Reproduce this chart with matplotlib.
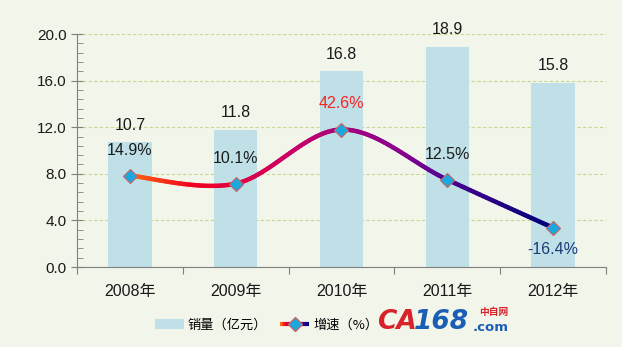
import numpy as np
import matplotlib
matplotlib.use("Agg")
import matplotlib.pyplot as plt
from matplotlib.collections import LineCollection
from matplotlib.colors import LinearSegmentedColormap
from matplotlib.patches import Patch
from matplotlib.lines import Line2D
from matplotlib.legend_handler import HandlerBase
from matplotlib.ticker import MultipleLocator, FixedLocator

plt.rcParams['font.family'] = ['Liberation Sans', 'Noto Sans CJK SC', 'DejaVu Sans']

years = ["2008年", "2009年", "2010年", "2011年", "2012年"]
sales = [10.7, 11.8, 16.8, 18.9, 15.8]          # 销量（亿元）
growth = [14.9, 10.1, 42.6, 12.5, -16.4]         # 增速（%）
growth_labels = ["14.9%", "10.1%", "42.6%", "12.5%", "-16.4%"]
growth_label_colors = ["#1a1a1a", "#1a1a1a", "#ff2020", "#1a1a1a", "#1f3a78"]

bg = "#f2f5ea"
bar_color = "#c0e0e8"
grad = LinearSegmentedColormap.from_list("g", [
    (0.0, "#ff6a10"), (0.15, "#f00020"), (0.375, "#cc0068"),
    (0.5, "#a8007c"), (0.65, "#880090"), (0.75, "#4c0090"), (1.0, "#00007a")])

fig = plt.figure(figsize=(6.22, 3.47), dpi=100, facecolor=bg)
ax = fig.add_axes([0.124, 0.2305, 0.850, 0.6715])
ax.set_facecolor(bg)
x = np.arange(len(years))

ax.bar(x, sales, width=0.41, color=bar_color, zorder=2)
for xi, v in zip(x, sales):
    ax.annotate(f"{v:.1f}", (xi, v), xytext=(0, 7), textcoords="offset points",
                ha="center", va="bottom", fontsize=11.5, color="#1a1a1a", zorder=5)

ax.set_xlim(-0.5, 4.5)
ax.set_ylim(0, 20)
ax.yaxis.set_major_locator(MultipleLocator(4))
ax.yaxis.set_minor_locator(MultipleLocator(0.8))
ax.yaxis.set_major_formatter(lambda v, p: f"{v:.1f}")
ax.tick_params(axis="y", which="major", direction="inout", length=9, color="#808080",
               labelsize=11, labelcolor="#1a1a1a", pad=3)
ax.tick_params(axis="y", which="minor", direction="in", length=4, color="#808080")
ax.grid(axis="y", which="major", linestyle=(0, (3, 2)), color="#c4d890", linewidth=0.8, zorder=0)

ax.xaxis.set_major_locator(FixedLocator(np.arange(-0.5, 5, 1)))
ax.xaxis.set_minor_locator(FixedLocator(x))
ax.xaxis.set_major_formatter(lambda v, p: "")
ax.set_xticks(x, years, minor=True)
ax.tick_params(axis="x", which="major", direction="out", length=5, color="#808080")
ax.tick_params(axis="x", which="minor", length=0, labelsize=11.5, labelcolor="#1a1a1a", pad=12)

for s in ["top", "right"]:
    ax.spines[s].set_visible(False)
for s in ["left", "bottom"]:
    ax.spines[s].set_color("#808080")

# hidden secondary axis for growth rate
ax2 = ax.twinx()
ax2.set_ylim(-40, 100)
ax2.set_xlim(-0.5, 4.5)
ax2.axis("off")

# smoothed line (cardinal bezier as in spreadsheet smoothing)
pts = np.column_stack([x, growth]).astype(float)
ext = np.vstack([pts[0], pts, pts[-1]])
curve = []
t = np.linspace(0, 1, 40)[:, None]
for i in range(len(pts) - 1):
    p0, p3 = ext[i + 1], ext[i + 2]
    p1 = p0 + (ext[i + 2] - ext[i]) / 6
    p2 = p3 - (ext[i + 3] - ext[i + 1]) / 6
    seg = (1 - t) ** 3 * p0 + 3 * (1 - t) ** 2 * t * p1 + 3 * (1 - t) * t ** 2 * p2 + t ** 3 * p3
    curve.append(seg if i == 0 else seg[1:])
curve = np.vstack(curve)
segs = np.stack([curve[:-1], curve[1:]], axis=1)
mid = (curve[:-1, 0] + curve[1:, 0]) / 2 / 4
lc = LineCollection(segs, colors=grad(mid), linewidths=3.2, capstyle="round", zorder=3)
ax2.add_collection(lc)
ax2.plot(x, growth, linestyle="none", marker="D", markersize=7.5,
         markerfacecolor="#1aa8e0", markeredgecolor="#c06a6a", markeredgewidth=0.9, zorder=4)

for xi, g, lab, c in zip(x, growth, growth_labels, growth_label_colors):
    off = -10 if g < 0 else 13
    ax2.annotate(lab, (xi, g), xytext=(0, off), textcoords="offset points",
                 ha="center", va="top" if g < 0 else "bottom", fontsize=11.5, color=c, zorder=5)


class GradLineHandler(HandlerBase):
    def create_artists(self, legend, orig, xd, yd, w, h, fs, trans):
        xs = np.linspace(-xd, -xd + w, 20)
        y0 = -yd + h / 2
        s = np.stack([np.column_stack([xs[:-1], [y0] * 19]), np.column_stack([xs[1:], [y0] * 19])], axis=1)
        l = LineCollection(s, colors=grad(np.linspace(0, 1, 19)), linewidths=3, transform=trans)
        m = Line2D([-xd + w / 2], [y0], marker="D", markersize=7, linestyle="none",
                   markerfacecolor="#1aa8e0", markeredgecolor="#c06a6a", transform=trans)
        return [l, m]


line_proxy = Line2D([], [])
fig.legend([Patch(facecolor=bar_color), line_proxy], ["销量（亿元）", "增速（%）"],
           handler_map={line_proxy: GradLineHandler()},
           loc="center left", bbox_to_anchor=(0.238, 0.063), ncol=2, frameon=False,
           handlelength=2.2, handleheight=0.8, columnspacing=1.0, borderpad=0,
           handletextpad=0.3, prop={"family": ["Noto Sans CJK SC"], "size": 9.5})

# watermark
wm1 = fig.text(0.606, 0.072, "CA", color="#d8232a", fontsize=19, fontweight="bold",
               fontstyle="italic", va="center", ha="left", family="DejaVu Sans")
fig.canvas.draw()
bb = wm1.get_window_extent().transformed(fig.transFigure.inverted())
fig.text(bb.x1 - 0.004, 0.072, "168", color="#1a5fb4", fontsize=19, fontweight="bold",
         fontstyle="italic", va="center", ha="left", family="DejaVu Sans")
fig.text(0.818, 0.100, "中自网", color="#d8232a", fontsize=7, va="center", ha="right",
         family=["Noto Sans CJK SC"], fontweight="bold")
fig.text(0.818, 0.055, ".com", color="#1a5fb4", fontsize=9.5, fontweight="bold",
         va="center", ha="right", family="DejaVu Sans")

fig.savefig("out.png", dpi=100, facecolor=bg)
